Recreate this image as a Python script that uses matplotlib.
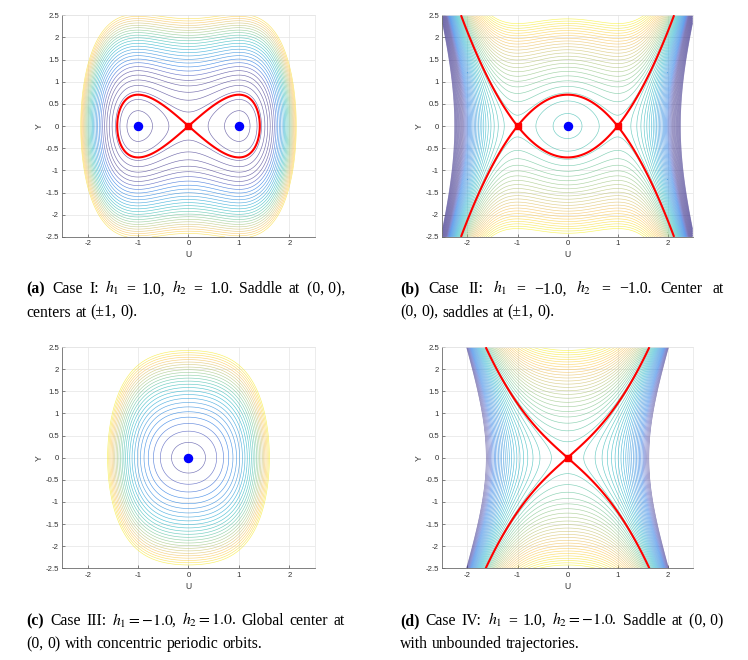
import numpy as np
import matplotlib
matplotlib.use("Agg")
import matplotlib.pyplot as plt
from matplotlib.colors import LinearSegmentedColormap, Normalize
from matplotlib.transforms import IdentityTransform

# ---------------------------------------------------------------------------
# Data: H(U, Y) = Y^2/2 - h1 U^2/2 + h2 U^4/4 for the four cases
# ---------------------------------------------------------------------------
H1_VALS = [1.0, -1.0, -1.0, 1.0]
H2_VALS = [1.0, -1.0, 1.0, -1.0]

# contour level range per panel
LEVEL_LO = [-0.25, -3.98, 0.0, -3.115]
LEVEL_HI = [3.0, 3.0, 3.0, 3.0]
LEVEL_STEP = 0.12

# colour limits per panel (estimated from the line colours)
CLIM_LO = [0.5, -2.6, 0.0, -3.0]
CLIM_HI = [3.2, 3.1, 3.1, 3.1]

# separatrix level (red curve), equilibria
SEPARATRIX = [0.0, 0.25, None, 0.0]
CENTERS = [[(-1.0, 0.0), (1.0, 0.0)], [(0.0, 0.0)], [(0.0, 0.0)], []]
SADDLES = [[(0.0, 0.0)], [(-1.0, 0.0), (1.0, 0.0)], [], [(0.0, 0.0)]]

X_TICKS = [-2, -1, 0, 1, 2]
X_TICK_LABELS = ["-2", "-1", "0", "1", "2"]
Y_TICKS = [-2.5, -2, -1.5, -1, -0.5, 0, 0.5, 1, 1.5, 2, 2.5]
Y_TICK_LABELS = ["-2.5", "-2", "-1.5", "-1", "-0.5", "0",
                 "0.5", "1", "1.5", "2", "2.5"]

CAPTIONS = [
    ([("(a)", True), "Case", "I:", "$h_1$", "=", "1.0,", "$h_2$", "=", "1.0.",
      "Saddle", "at", "(0, 0),"],
     "centers at (\u00b11, 0)."),
    ([("(b)", True), "Case", "II:", "$h_1$", "=", "\u22121.0,", "$h_2$", "=",
      "\u22121.0.", "Center", "at"],
     "(0, 0), saddles at (\u00b11, 0)."),
    ([("(c)", True), "Case", "III:", "$h_1 = -1.0$,", "$h_2 = 1.0$.",
      "Global", "center", "at"],
     "(0, 0) with concentric periodic orbits."),
    ([("(d)", True), "Case", "IV:", "$h_1$", "=", "1.0,", "$h_2 = -1.0$.",
      "Saddle", "at", "(0, 0)"],
     "with unbounded trajectories."),
]

# ---------------------------------------------------------------------------
# Style / layout
# ---------------------------------------------------------------------------
W_PX, H_PX, DPI = 748, 660, 100

# MATLAB parula, every 4th row of the 64-entry table
PARULA = LinearSegmentedColormap.from_list("parula", [
    (0.2081, 0.1663, 0.5292),
    (0.1959, 0.2645, 0.7279),
    (0.0117, 0.3875, 0.8820),
    (0.0498, 0.4586, 0.8641),
    (0.0779, 0.5040, 0.8384),
    (0.0343, 0.5966, 0.8199),
    (0.0267, 0.6642, 0.7607),
    (0.1133, 0.7015, 0.6859),
    (0.2178, 0.7250, 0.6193),
    (0.3953, 0.7459, 0.5244),
    (0.5709, 0.7485, 0.4494),
    (0.7184, 0.7411, 0.3905),
    (0.8507, 0.7299, 0.3360),
    (0.9739, 0.7314, 0.2666),
    (0.9880, 0.8066, 0.1794),
    (0.9589, 0.8949, 0.1132),
    (0.9763, 0.9831, 0.0538),
])

# axes rectangles in figure fractions [left, bottom, width, height]
AX_RECTS = [
    [0.0835, 0.641, 0.337, 0.336],
    [0.5915, 0.641, 0.3345, 0.336],
    [0.0835, 0.139, 0.337, 0.335],
    [0.5915, 0.139, 0.3345, 0.335],
]
# caption geometry in pixels from top: (x0, x1, baseline1, baseline2)
CAP_GEOM = [
    (26.7, 345.0, 293.3, 316.7),
    (400.0, 723.3, 293.3, 316.7),
    (26.7, 345.0, 625.0, 648.3),
    (400.0, 723.3, 625.0, 648.3),
]
CAP_FS = 11.3
SERIF = "Liberation Serif"
SANS = "Liberation Sans"

plt.rcParams["mathtext.fontset"] = "stix"
plt.rcParams["font.family"] = SANS

U = np.linspace(-2.5, 2.5, 601)
Yv = np.linspace(-2.5, 2.5, 601)
UU, YY = np.meshgrid(U, Yv)


def hamiltonian(h1, h2):
    return 0.5 * YY**2 - 0.5 * h1 * UU**2 + 0.25 * h2 * UU**4


def style_axes(ax):
    ax.set_xlim(-2.5, 2.5)
    ax.set_ylim(-2.5, 2.5)
    ax.set_xticks(X_TICKS)
    ax.set_xticklabels(X_TICK_LABELS)
    ax.set_yticks(Y_TICKS)
    ax.set_yticklabels(Y_TICK_LABELS)
    ax.tick_params(direction="in", length=2.5, width=0.5, labelsize=5.6,
                   colors="#555555", labelcolor="#333333", pad=2.5)
    ax.grid(True, color="#e4e4e4", linewidth=0.5)
    ax.set_axisbelow(True)
    for side in ("left", "bottom"):
        ax.spines[side].set_color("#6a6a6a")
        ax.spines[side].set_linewidth(0.6)
    for side in ("top", "right"):
        ax.spines[side].set_color("#e4e4e4")
        ax.spines[side].set_linewidth(0.5)
    ax.set_xlabel("U", fontsize=6.2, color="#333333", labelpad=2)
    ax.set_ylabel("Y", fontsize=6.2, color="#333333", labelpad=1)


def put_line(fig, renderer, words, x0, x1, y_top, justify):
    y = H_PX - y_top
    texts = []
    for w in words:
        bold = False
        if isinstance(w, tuple):
            w, bold = w
        t = fig.text(0, y, w, fontsize=CAP_FS, family=SERIF,
                     fontweight="bold" if bold else "normal",
                     va="baseline", ha="left", transform=IdentityTransform())
        texts.append(t)
    widths = [t.get_window_extent(renderer).width for t in texts]
    if justify and len(texts) > 1:
        gap = (x1 - x0 - sum(widths)) / (len(texts) - 1)
    else:
        gap = 0.25 * CAP_FS * DPI / 72
    x = x0
    for t, wd in zip(texts, widths):
        t.set_x(x)
        x += wd + gap


fig = plt.figure(figsize=(W_PX / DPI, H_PX / DPI), dpi=DPI)

for i in range(4):
    ax = fig.add_axes(AX_RECTS[i])
    H = hamiltonian(H1_VALS[i], H2_VALS[i])
    levels = np.arange(LEVEL_LO[i] + LEVEL_STEP / 2, LEVEL_HI[i], LEVEL_STEP)
    ax.contour(UU, YY, H, levels=levels, cmap=PARULA,
               norm=Normalize(vmin=CLIM_LO[i], vmax=CLIM_HI[i], clip=True),
               linewidths=0.45, alpha=0.68)
    if SEPARATRIX[i] is not None:
        ax.contour(UU, YY, H, levels=[SEPARATRIX[i]], colors="red",
                   linewidths=1.5, zorder=3)
    for (cu, cy) in CENTERS[i]:
        ax.plot(cu, cy, "o", color="blue", markersize=5.8, zorder=4)
    for (su, sy) in SADDLES[i]:
        ax.plot(su, sy, "s", color="red", markersize=4.6, zorder=4)
    style_axes(ax)

fig.canvas.draw()
renderer = fig.canvas.get_renderer()
for i, (line1, line2) in enumerate(CAPTIONS):
    x0, x1, b1, b2 = CAP_GEOM[i]
    put_line(fig, renderer, line1, x0, x1, b1, justify=True)
    put_line(fig, renderer, line2.split(" "), x0, x1, b2, justify=False)

fig.savefig("out.png", dpi=DPI)
